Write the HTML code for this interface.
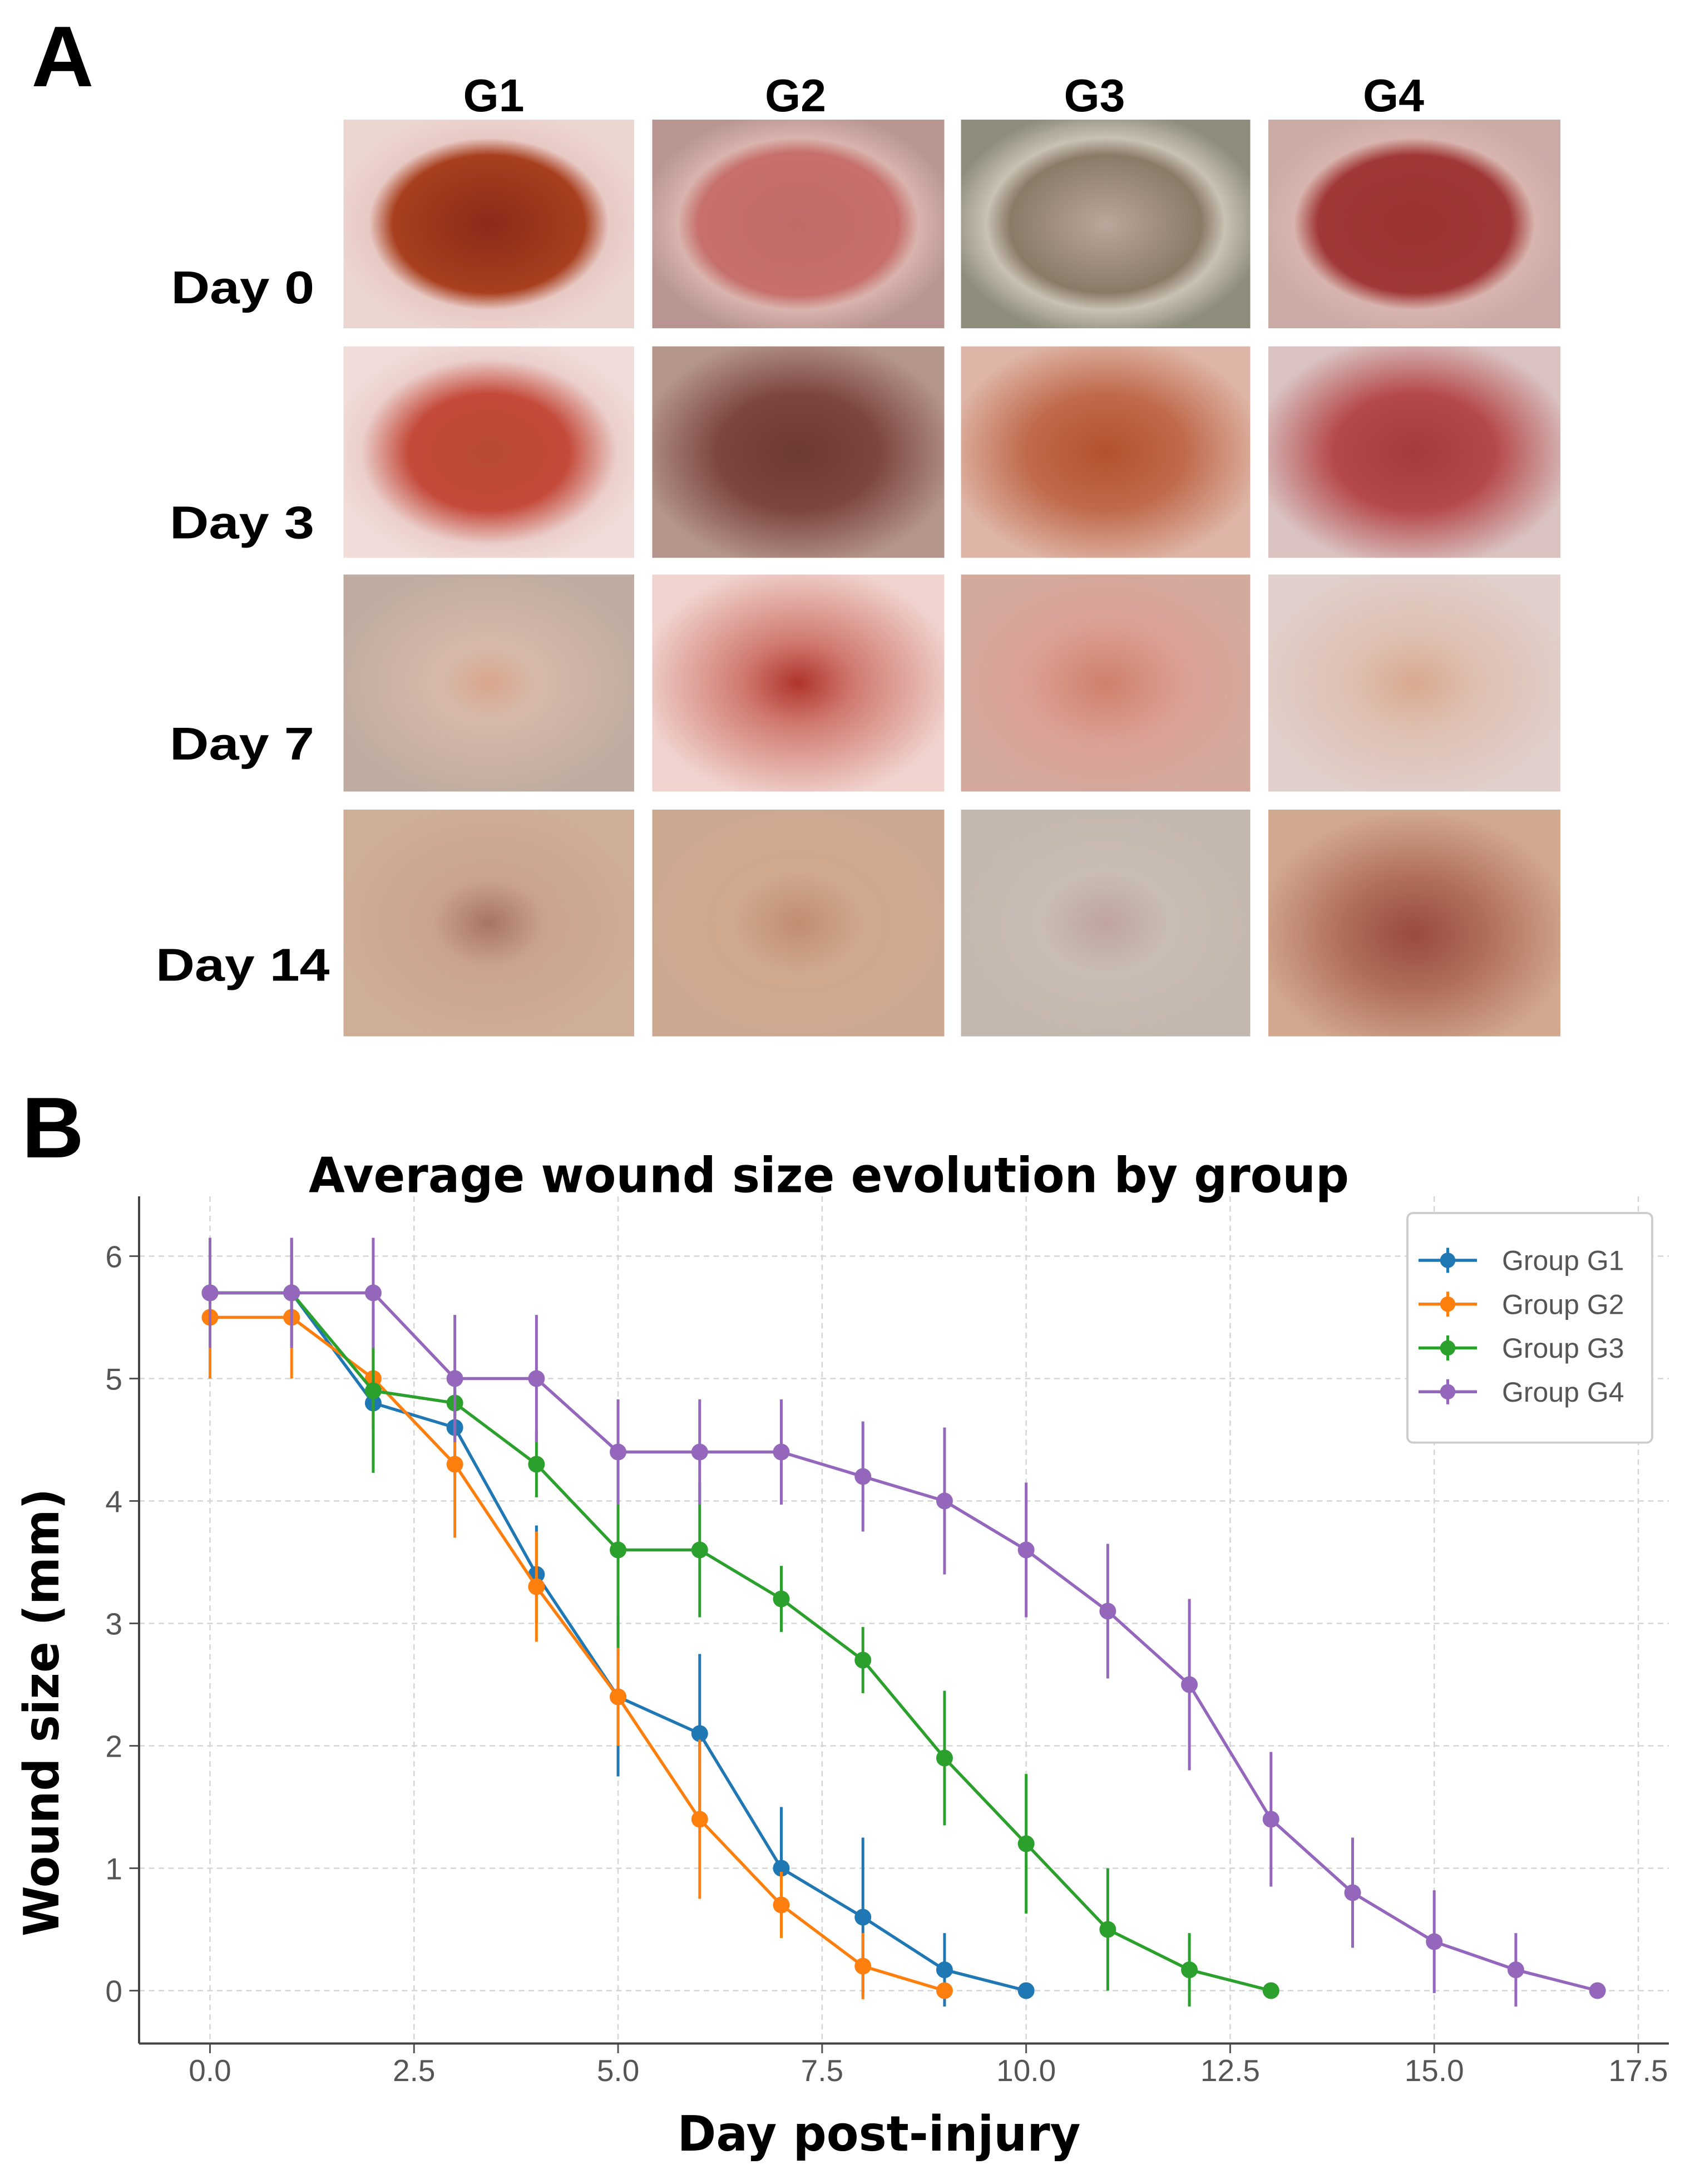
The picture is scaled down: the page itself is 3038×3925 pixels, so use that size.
<!DOCTYPE html>
<html><head><meta charset="utf-8"><style>
html,body{margin:0;padding:0;background:#fff;}
svg{display:block;}
text{font-family:"Liberation Sans","DejaVu Sans",sans-serif;}
.dj{font-family:"DejaVu Sans","Liberation Sans",sans-serif;font-weight:bold;}
</style></head><body>
<svg id="fig" width="3038" height="3925" viewBox="0 0 1215.2 1570" xmlns="http://www.w3.org/2000/svg">
<defs>
<radialGradient id="gA" cx="50%" cy="50%" r="55%"><stop offset="0" stop-color="#8c2a1a"/><stop offset="0.6" stop-color="#a8401f"/><stop offset="0.75" stop-color="#e8c9c4"/><stop offset="1" stop-color="#ecd6d2"/></radialGradient>
<radialGradient id="gB" cx="50%" cy="50%" r="55%"><stop offset="0" stop-color="#c06b67"/><stop offset="0.62" stop-color="#c66f6b"/><stop offset="0.75" stop-color="#d9b3ad"/><stop offset="1" stop-color="#b89590"/></radialGradient>
<radialGradient id="gC" cx="50%" cy="50%" r="55%"><stop offset="0" stop-color="#b9a89b"/><stop offset="0.6" stop-color="#8a7a68"/><stop offset="0.75" stop-color="#c9c1b3"/><stop offset="1" stop-color="#8e8c7b"/></radialGradient>
<radialGradient id="gD" cx="50%" cy="50%" r="55%"><stop offset="0" stop-color="#9c3331"/><stop offset="0.6" stop-color="#a03837"/><stop offset="0.75" stop-color="#d8b4ae"/><stop offset="1" stop-color="#c9aaa5"/></radialGradient>
<radialGradient id="gE" cx="50%" cy="50%" r="55%"><stop offset="0" stop-color="#b84a35"/><stop offset="0.5" stop-color="#c44a3a"/><stop offset="0.8" stop-color="#ebcfcc"/><stop offset="1" stop-color="#f0dcd8"/></radialGradient>
<radialGradient id="gF" cx="50%" cy="50%" r="55%"><stop offset="0" stop-color="#6e3a34"/><stop offset="0.5" stop-color="#7d4640"/><stop offset="1" stop-color="#b4958c"/></radialGradient>
<radialGradient id="gG" cx="50%" cy="50%" r="55%"><stop offset="0" stop-color="#b1522f"/><stop offset="0.5" stop-color="#c06a4c"/><stop offset="1" stop-color="#deb5a6"/></radialGradient>
<radialGradient id="gH" cx="50%" cy="50%" r="55%"><stop offset="0" stop-color="#a63a3e"/><stop offset="0.5" stop-color="#b5484b"/><stop offset="1" stop-color="#d9c2c0"/></radialGradient>
<radialGradient id="gI" cx="50%" cy="50%" r="55%"><stop offset="0" stop-color="#d9a68c"/><stop offset="0.3" stop-color="#d6b9aa"/><stop offset="1" stop-color="#bfaba0"/></radialGradient>
<radialGradient id="gJ" cx="50%" cy="50%" r="55%"><stop offset="0" stop-color="#b0342a"/><stop offset="0.35" stop-color="#d07a70"/><stop offset="1" stop-color="#f1d4cf"/></radialGradient>
<radialGradient id="gK" cx="50%" cy="50%" r="55%"><stop offset="0" stop-color="#d0806a"/><stop offset="0.5" stop-color="#dba095"/><stop offset="1" stop-color="#d3a99e"/></radialGradient>
<radialGradient id="gL" cx="50%" cy="50%" r="55%"><stop offset="0" stop-color="#d9a98f"/><stop offset="0.4" stop-color="#dec0b2"/><stop offset="1" stop-color="#e0cfcb"/></radialGradient>
<radialGradient id="gM" cx="50%" cy="50%" r="55%"><stop offset="0" stop-color="#a87465"/><stop offset="0.35" stop-color="#caa38e"/><stop offset="1" stop-color="#cfae97"/></radialGradient>
<radialGradient id="gN" cx="50%" cy="50%" r="55%"><stop offset="0" stop-color="#c18d70"/><stop offset="0.4" stop-color="#cfa88e"/><stop offset="1" stop-color="#cda890"/></radialGradient>
<radialGradient id="gO" cx="50%" cy="50%" r="55%"><stop offset="0" stop-color="#bfa4a2"/><stop offset="0.4" stop-color="#c8bcb4"/><stop offset="1" stop-color="#c2b7ad"/></radialGradient>
<radialGradient id="gP" cx="50%" cy="55%" r="55%"><stop offset="0" stop-color="#9a4a3e"/><stop offset="0.45" stop-color="#b06e5a"/><stop offset="1" stop-color="#d2a98f"/></radialGradient>
</defs>

<text x="45" y="62" font-size="62" font-weight="bold" text-anchor="middle">A</text>
<text x="38" y="832" font-size="62" font-weight="bold" text-anchor="middle">B</text>

<g class="dj" font-size="33" text-anchor="middle">
<text x="355" y="80">G1</text>
<text x="572" y="80">G2</text>
<text x="787" y="80">G3</text>
<text x="1002" y="80">G4</text>
</g>
<g class="dj" font-size="33">
<text x="123" y="218" textLength="103" lengthAdjust="spacingAndGlyphs">Day 0</text>
<text x="122" y="387" textLength="104" lengthAdjust="spacingAndGlyphs">Day 3</text>
<text x="122" y="546" textLength="104" lengthAdjust="spacingAndGlyphs">Day 7</text>
<text x="112" y="705" textLength="125" lengthAdjust="spacingAndGlyphs">Day 14</text>
</g>

<g>
<rect x="247" y="86" width="209" height="150" fill="url(#gA)"/>
<rect x="469" y="86" width="210" height="150" fill="url(#gB)"/>
<rect x="691" y="86" width="208" height="150" fill="url(#gC)"/>
<rect x="912" y="86" width="210" height="150" fill="url(#gD)"/>
<rect x="247" y="249" width="209" height="152" fill="url(#gE)"/>
<rect x="469" y="249" width="210" height="152" fill="url(#gF)"/>
<rect x="691" y="249" width="208" height="152" fill="url(#gG)"/>
<rect x="912" y="249" width="210" height="152" fill="url(#gH)"/>
<rect x="247" y="413" width="209" height="156" fill="url(#gI)"/>
<rect x="469" y="413" width="210" height="156" fill="url(#gJ)"/>
<rect x="691" y="413" width="208" height="156" fill="url(#gK)"/>
<rect x="912" y="413" width="210" height="156" fill="url(#gL)"/>
<rect x="247" y="582" width="209" height="163" fill="url(#gM)"/>
<rect x="469" y="582" width="210" height="163" fill="url(#gN)"/>
<rect x="691" y="582" width="208" height="163" fill="url(#gO)"/>
<rect x="912" y="582" width="210" height="163" fill="url(#gP)"/>
</g>

<text class="dj" x="222" y="857" font-size="35" textLength="748" lengthAdjust="spacingAndGlyphs">Average wound size evolution by group</text>
<g id="grid"></g>
<g id="axes"></g>
<g id="series"></g>
<text class="dj" x="487" y="1546" font-size="35" textLength="290" lengthAdjust="spacingAndGlyphs">Day post-injury</text>
<text class="dj" transform="translate(42,1392) rotate(-90)" font-size="35" textLength="322" lengthAdjust="spacingAndGlyphs">Wound size (mm)</text>

<g>
<rect x="1012" y="872" width="176" height="165" rx="4" fill="#fff" stroke="#ccc" stroke-width="1.5"/>
<g id="legend"></g>
</g>
</svg>
<script>
const groupNames = ["Group G1","Group G2","Group G3","Group G4"];
const colors = ["#1f77b4","#ff7f0e","#2ca02c","#9467bd"];
const g1Values = [5.7,5.7,4.8,4.6,3.4,2.4,2.1,1.0,0.6,0.17,0];
const g1Errors = [0.45,0.45,0.5,0.4,0.4,0.65,0.65,0.5,0.65,0.3,0];
const g2Values = [5.5,5.5,5.0,4.3,3.3,2.4,1.4,0.7,0.2,0];
const g2Errors = [0.5,0.5,0.4,0.6,0.45,0.4,0.65,0.27,0.27,0];
const g3Values = [5.7,5.7,4.9,4.8,4.3,3.6,3.6,3.2,2.7,1.9,1.2,0.5,0.17,0];
const g3Errors = [0,0,0.67,0.1,0.27,0.8,0.55,0.27,0.27,0.55,0.57,0.5,0.3,0];
const g4Values = [5.7,5.7,5.7,5.0,5.0,4.4,4.4,4.4,4.2,4.0,3.6,3.1,2.5,1.4,0.8,0.4,0.17,0];
const g4Errors = [0.45,0.45,0.45,0.52,0.52,0.43,0.43,0.43,0.45,0.6,0.55,0.55,0.7,0.55,0.45,0.42,0.3,0];
const xTicks = [0,2.5,5,7.5,10,12.5,15,17.5];
const xTickLabels = ["0.0","2.5","5.0","7.5","10.0","12.5","15.0","17.5"];
const yTicks = [0,1,2,3,4,5,6];

const NS = "http://www.w3.org/2000/svg";
const X0 = 151, XS = (1178 - 151) / 17.5;
const Y0 = 1431, YS = (1431 - 903) / 6;
const xs = v => X0 + v * XS;
const ys = v => Y0 - v * YS;
function mk(tag, attrs, parent) {
  const e = document.createElementNS(NS, tag);
  for (const k in attrs) e.setAttribute(k, attrs[k]);
  parent.appendChild(e);
  return e;
}
const grid = document.getElementById("grid");
const axes = document.getElementById("axes");
xTicks.forEach((t, i) => {
  const l = mk("line", {x1: xs(t), x2: xs(t), y1: 860, y2: 1469, stroke: "#d5d5d5", "stroke-width": 1, "stroke-dasharray": "4,3"}, grid);
  
  
  const tk = mk("line", {x1: xs(t), x2: xs(t), y1: 1469, y2: 1476, stroke: "#555", "stroke-width": 1.2}, axes);
  
  
  const tx = mk("text", {x: xs(t), y: 1496, "font-size": 22, fill: "#555", "text-anchor": "middle"}, axes);
  tx.textContent = xTickLabels[i];
  
  
});
yTicks.forEach(t => {
  const l = mk("line", {x1: 100, x2: 1200, y1: ys(t), y2: ys(t), stroke: "#d5d5d5", "stroke-width": 1, "stroke-dasharray": "4,3"}, grid);
  
  
  const tk = mk("line", {x1: 93, x2: 100, y1: ys(t), y2: ys(t), stroke: "#555", "stroke-width": 1.2}, axes);
  
  
  const tx = mk("text", {x: 88, y: ys(t) + 8, "font-size": 22, fill: "#555", "text-anchor": "end"}, axes);
  tx.textContent = String(t);
  
  
});
const sp1 = mk("line", {x1: 100, x2: 100, y1: 860, y2: 1469, stroke: "#444", "stroke-width": 1.6}, axes);


const sp2 = mk("line", {x1: 100, x2: 1200, y1: 1469, y2: 1469, stroke: "#444", "stroke-width": 1.6}, axes);



const allValues = [g1Values, g2Values, g3Values, g4Values];
const allErrors = [g1Errors, g2Errors, g3Errors, g4Errors];
const series = document.getElementById("series");
allValues.forEach((vals, s) => {
  const g = mk("g", {}, series);
  
  
  const c = colors[s];
  vals.forEach((v, d) => {
    const e = allErrors[s][d];
    if (e > 0) {
      const eb = mk("line", {x1: xs(d), x2: xs(d), y1: ys(v - e), y2: ys(v + e), stroke: c, "stroke-width": 2}, g);
      
      
    }
  });
  const pl = mk("polyline", {points: vals.map((v, d) => xs(d) + "," + ys(v)).join(" "), fill: "none", stroke: c, "stroke-width": 2.2}, g);
  
  
  vals.forEach((v, d) => {
    const p = mk("circle", {cx: xs(d), cy: ys(v), r: 6, fill: c}, g);
    
    
  });
});

const legend = document.getElementById("legend");
groupNames.forEach((n, i) => {
  const y = 906 + i * 31.5;
  const g = mk("g", {}, legend);
  
  
  mk("line", {x1: 1020, x2: 1062, y1: y, y2: y, stroke: colors[i], "stroke-width": 2.2}, g);
  mk("line", {x1: 1041, x2: 1041, y1: y - 9, y2: y + 9, stroke: colors[i], "stroke-width": 2}, g);
  mk("circle", {cx: 1041, cy: y, r: 5.5, fill: colors[i]}, g);
  const t = mk("text", {x: 1080, y: y + 7, "font-size": 20, fill: "#555"}, g);
  t.textContent = n;
});
</script>
</body></html>
